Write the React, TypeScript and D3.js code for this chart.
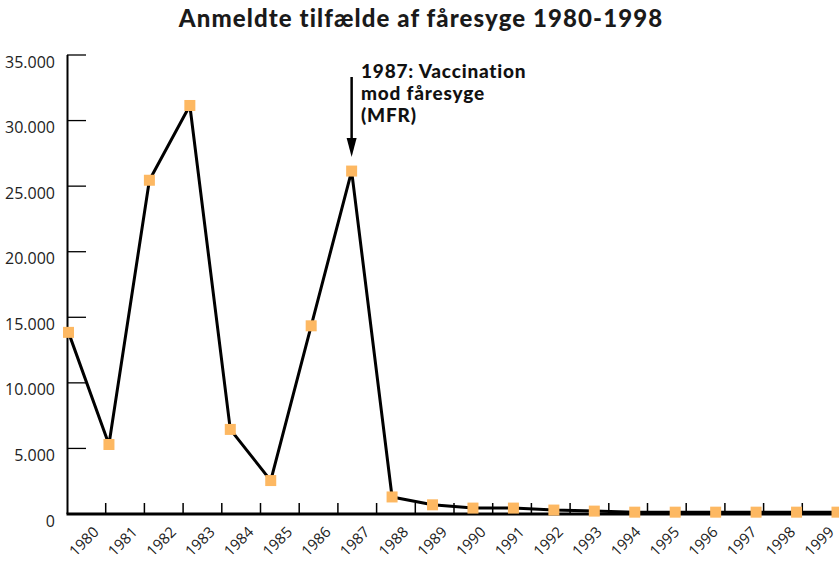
import React, { useEffect, useRef } from 'react';
import * as d3 from 'd3';

const years = ['1980', '1981', '1982', '1983', '1984', '1985', '1986', '1987', '1988', '1989',
    '1990', '1991', '1992', '1993', '1994', '1995', '1996', '1997', '1998', '1999'];
const cases = [13850, 5300, 25450, 31150, 6450, 2550, 14350, 26150, 1300, 700,
    450, 450, 300, 220, 140, 140, 140, 140, 140, 140];
const yTicks = [0, 5000, 10000, 15000, 20000, 25000, 30000, 35000];
const noteLines = ['1987: Vaccination', 'mod fåresyge', '(MFR)'];
const title = 'Anmeldte tilfælde af fåresyge 1980-1998';

const App = () => {
    const d3Container = useRef<HTMLDivElement>(null);

    useEffect(() => {
        if (!d3Container.current) return;
        const width = 839;
        const height = 561;

        d3.select(d3Container.current).selectAll('*').remove();

        const svg = d3.select(d3Container.current)
            .append('svg')
            .attr('width', width)
            .attr('height', height)
            .style('display', 'block')
            .style('background', '#fff');

        const y = d3.scaleLinear().domain([0, 35000]).range([514, 55]);
        // axis ticks sit on category boundaries, markers use their own spacing
        const xBand = d3.scaleBand().domain(years).range([67, 841]);
        const xPt = d3.scalePoint().domain(years).range([68.5, 837]);

        const tickFont = '"Open Sans", sans-serif';
        const labelFont = 'Lato, sans-serif';

        // title
        svg.append('text')
            .attr('x', 421)
            .attr('y', 27)
            .attr('text-anchor', 'middle')
            .attr('font-family', labelFont)
            .attr('font-weight', 900)
            .attr('font-size', 24)
            .attr('letter-spacing', 1.1)
            .attr('fill', '#1a1a1a')
            .text(title);

        // y axis
        const yAxis = svg.append('g');
        yAxis.append('line')
            .attr('x1', 67.5).attr('x2', 67.5)
            .attr('y1', y(35000)).attr('y2', y(0))
            .attr('stroke', '#000').attr('stroke-width', 2);
        yAxis.selectAll('line.tick')
            .data(yTicks.filter(d => d > 0))
            .enter()
            .append('line')
            .attr('class', 'tick')
            .attr('x1', 67).attr('x2', 86)
            .attr('y1', d => y(d)).attr('y2', d => y(d))
            .attr('stroke', '#000').attr('stroke-width', 1.3);
        yAxis.selectAll('text')
            .data(yTicks)
            .enter()
            .append('text')
            .attr('x', 55)
            .attr('y', d => y(d) + 7)
            .attr('dy', '0.35em')
            .attr('text-anchor', 'end')
            .attr('font-family', tickFont)
            .attr('font-size', 16)
            .attr('fill', '#222')
            .text(d => d3.format(',')(d).replace(/,/g, '.'));

        // x axis
        const xAxis = svg.append('g');
        xAxis.append('line')
            .attr('x1', 66.5).attr('x2', width)
            .attr('y1', 514).attr('y2', 514)
            .attr('stroke', '#000').attr('stroke-width', 3);
        xAxis.selectAll('line.tick')
            .data(years.slice(0, -1))
            .enter()
            .append('line')
            .attr('class', 'tick')
            .attr('x1', d => xBand(d)! + xBand.bandwidth())
            .attr('x2', d => xBand(d)! + xBand.bandwidth())
            .attr('y1', 503).attr('y2', 514)
            .attr('stroke', '#000').attr('stroke-width', 1.5);
        xAxis.selectAll('text')
            .data(years)
            .enter()
            .append('text')
            .attr('transform', d => `translate(${xBand(d)! + xBand.bandwidth() - 6},${533}) rotate(-45)`)
            .attr('text-anchor', 'end')
            .attr('font-family', tickFont)
            .attr('font-size', 15)
            .attr('fill', '#222')
            .text(d => d);

        // line + markers
        const line = d3.line<string>()
            .x(d => xPt(d)!)
            .y((d, i) => y(cases[i]));
        svg.append('path')
            .datum(years)
            .attr('d', line)
            .attr('fill', 'none')
            .attr('stroke', '#000')
            .attr('stroke-width', 3)
            .attr('stroke-linejoin', 'round');

        svg.selectAll('rect.marker')
            .data(years)
            .enter()
            .append('rect')
            .attr('class', 'marker')
            .attr('x', d => xPt(d)! - 5.5)
            .attr('y', (d, i) => y(cases[i]) - 5.5)
            .attr('width', 11)
            .attr('height', 11)
            .attr('fill', '#FDB862');

        // annotation arrow
        const ax = xPt('1987')!;
        svg.append('line')
            .attr('x1', ax).attr('x2', ax)
            .attr('y1', 77).attr('y2', 138)
            .attr('stroke', '#000').attr('stroke-width', 2.5);
        svg.append('path')
            .attr('d', `M${ax - 5},138 L${ax + 5},138 L${ax},157 Z`)
            .attr('fill', '#000');

        svg.append('g')
            .selectAll('text')
            .data(noteLines)
            .enter()
            .append('text')
            .attr('x', 361)
            .attr('y', (d, i) => 78 + i * 22)
            .attr('font-family', labelFont)
            .attr('font-weight', 900)
            .attr('font-size', 19)
            .attr('letter-spacing', 0.8)
            .attr('fill', '#111')
            .text(d => d);
    }, []);

    return (
        <div style={{ position: 'absolute', left: 0, top: 0 }}>
            <div ref={d3Container} />
        </div>
    );
};

export default App;
